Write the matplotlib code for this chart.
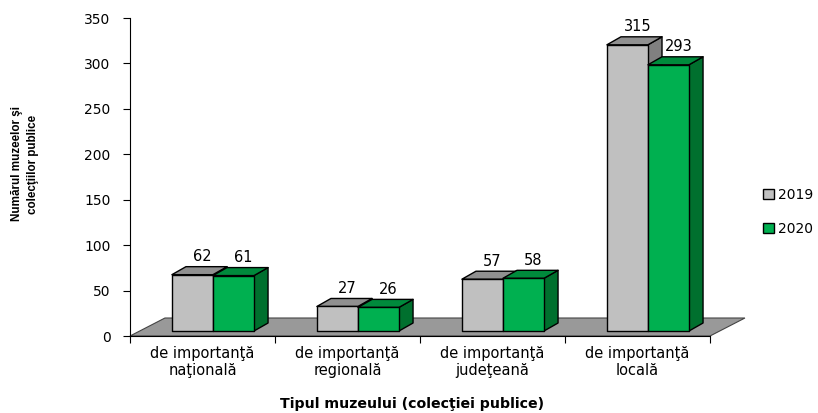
import matplotlib.pyplot as plt
from matplotlib.patches import Polygon, Patch

plt.rcParams['font.family'] = ['DejaVu Sans']

# Data
categories = ['de importanţă\nnaţională', 'de importanţă\nregională',
              'de importanţă\njudeţeană', 'de importanţă\nlocală']
years = ['2019', '2020']
values_2019 = [62, 27, 57, 315]
values_2020 = [61, 26, 58, 293]

# Colors (front, top, side)
colors = {
    '2019': ('#C0C0C0', '#909090', '#808080'),
    '2020': ('#00B050', '#008A3C', '#00702E'),
}

# 3D look parameters (data units)
floor_dx, floor_dy = 0.241, 19.8
bar_dx, bar_dy = 0.097, 8.8
off_x = floor_dx / 2 - bar_dx / 2
off_y = floor_dy / 2 - bar_dy / 2
bar_w = 0.283


def draw_bar(ax, x0, h, cols):
    front, top, side = cols
    x0 = x0 + off_x
    y0 = off_y
    x1 = x0 + bar_w
    y1 = y0 + h
    kw = dict(edgecolor='black', linewidth=1.0, clip_on=False, joinstyle='round')
    ax.add_patch(Polygon([(x1, y0), (x1 + bar_dx, y0 + bar_dy), (x1 + bar_dx, y1 + bar_dy), (x1, y1)],
                         facecolor=side, **kw))
    ax.add_patch(Polygon([(x0, y1), (x1, y1), (x1 + bar_dx, y1 + bar_dy), (x0 + bar_dx, y1 + bar_dy)],
                         facecolor=top, **kw))
    ax.add_patch(Polygon([(x0, y0), (x1, y0), (x1, y1), (x0, y1)],
                         facecolor=front, **kw))
    ax.text((x0 + x1) / 2 + bar_dx / 2 + 0.02, y1 + bar_dy + 11, str(h),
            ha='center', va='center', fontsize=10.5)


fig = plt.figure(figsize=(8.18, 4.13), dpi=100)
ax = fig.add_axes([130 / 818, 77 / 413, 580 / 818, 318 / 413])
n = len(categories)
ax.set_xlim(0, n)
ax.set_ylim(0, 350)

# floor
ax.add_patch(Polygon([(0, 0), (n, 0), (n + floor_dx, floor_dy), (floor_dx, floor_dy)],
                     facecolor='#999999', edgecolor='#444444', linewidth=0.8, clip_on=False))

for i in range(n):
    c = i + 0.5
    draw_bar(ax, c - bar_w, values_2019[i], colors['2019'])
    draw_bar(ax, c, values_2020[i], colors['2020'])

ax.spines['top'].set_visible(False)
ax.spines['right'].set_visible(False)
ax.set_xticks(range(n + 1))
ax.set_xticklabels([])
ax.set_xticks([i + 0.5 for i in range(n)], minor=True)
ax.set_xticklabels(categories, minor=True, fontsize=10.5, linespacing=1.15)
ax.tick_params(axis='x', which='minor', length=0, pad=7)
ax.tick_params(axis='x', which='major', length=5, direction='out')
ax.set_yticks(range(0, 351, 50))
ax.tick_params(axis='y', length=5, direction='out', labelsize=10, pad=9)

fig.text(25 / 818, 1 - 164 / 413, 'Numărul muzeelor şi\ncolecţiilor publice',
         rotation=90, ha='center', va='center', fontsize=8.4, fontweight='bold',
         linespacing=1.35, family=['Liberation Sans Narrow', 'Liberation Sans'])
fig.text(412 / 818, 1 - 404 / 413, 'Tipul muzeului (colecţiei publice)',
         ha='center', va='center', fontsize=10.2, fontweight='bold')

handles = [Patch(facecolor=colors[y][0], edgecolor='black', linewidth=1.0) for y in years]
fig.legend(handles, years, loc='center left', bbox_to_anchor=(757 / 818, 1 - 212 / 413),
           frameon=False, fontsize=10, handlelength=0.8, handleheight=0.7,
           handletextpad=0.3, labelspacing=1.45, borderaxespad=0)

fig.savefig('out.png', dpi=100)
